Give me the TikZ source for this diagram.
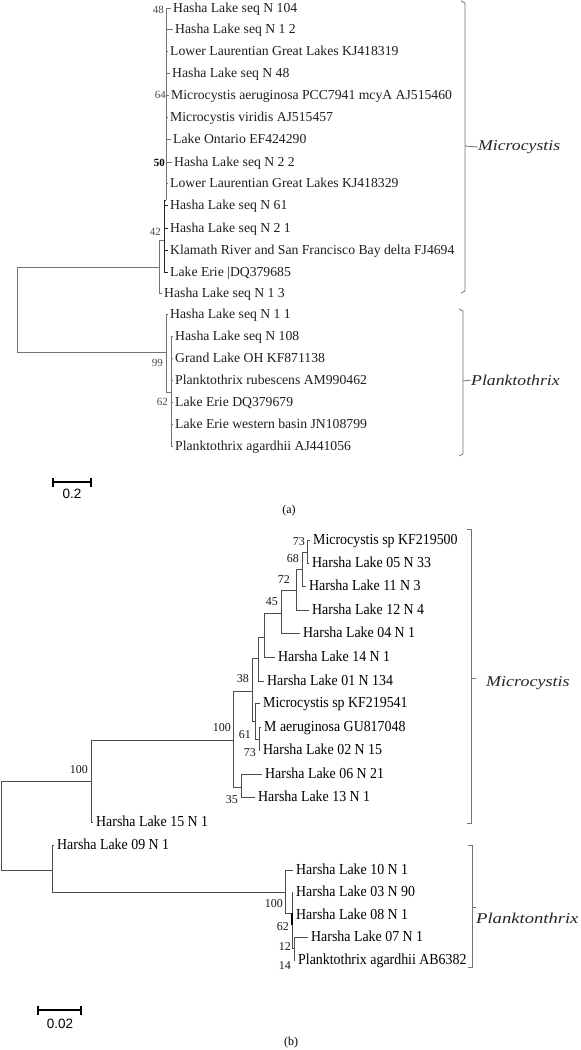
\documentclass[tikz,border=0pt]{standalone}
\usepackage{fontspec}
\usepackage{graphicx}
\setmainfont{Liberation Serif}
\newfontfamily\arialf{Liberation Sans}
\tikzset{
  leafa/.style={anchor=west, inner xsep=2pt, inner ysep=0pt, text height=9.5pt, text depth=1.5pt, font=\fontsize{13.7}{15}\selectfont, text=black!88},
  leafb/.style={anchor=west, inner xsep=3pt, inner ysep=0pt, text height=10pt, text depth=1.5pt, font=\fontsize{13.9}{15}\selectfont, text=black, yscale=1.1},
  boota/.style={anchor=east, inner sep=0pt, font=\fontsize{11}{12}\selectfont, text=black!70},
  bootb/.style={anchor=east, inner sep=0pt, font=\fontsize{12}{13}\selectfont, text=black!90},
  treea/.style={draw=black!55, line width=0.8pt},
  treeadk/.style={draw=black!85, line width=1pt},
  treeb/.style={draw=black!70, line width=0.9pt},
  brk/.style={draw=black!55, line width=0.8pt},
  clade/.style={anchor=west, inner sep=0pt, font=\fontsize{15}{17}\selectfont\itshape, text=black!85},
  sbar/.style={draw=black, line width=2.8pt},
  stick/.style={draw=black, line width=1.8pt},
  slab/.style={inner sep=0pt, font=\arialf\fontsize{13.5}{15}\selectfont},
  capt/.style={inner sep=0pt, font=\fontsize{12}{13}\selectfont},
}
\begin{document}
\begin{tikzpicture}[x=1pt,y=-1pt]
\useasboundingbox[fill=white] (0,0) rectangle (581,1050);

% ---------------- panel (a) ----------------
\node[leafa] (a1)  at (171,8)   {Hasha Lake seq N 104};
\node[leafa] (a2)  at (173,29)  {Hasha Lake seq N 1 2};
\node[leafa] (a3)  at (168,51)  {Lower Laurentian Great Lakes KJ418319};
\node[leafa] (a4)  at (170,73)  {Hasha Lake seq N 48};
\node[leafa] (a5)  at (169,95)  {Microcystis aeruginosa PCC7941 mcyA AJ515460};
\node[leafa] (a6)  at (168,117) {Microcystis viridis AJ515457};
\node[leafa] (a7)  at (171,139) {Lake Ontario EF424290};
\node[leafa] (a8)  at (172,162) {Hasha Lake seq N 2 2};
\node[leafa] (a9)  at (168,183) {Lower Laurentian Great Lakes KJ418329};
\node[leafa] (a10) at (168,205) {Hasha Lake seq N 61};
\node[leafa] (a11) at (168,228) {Hasha Lake seq N 2 1};
\node[leafa] (a12) at (168,250) {Klamath River and San Francisco Bay delta FJ4694};
\node[leafa] (a13) at (168,272) {Lake Erie |DQ379685};
\node[leafa] (a14) at (162,293) {Hasha Lake seq N 1 3};
\node[leafa] (b1)  at (168,314) {Hasha Lake seq N 1 1};
\node[leafa] (b2)  at (173,336) {Hasha Lake seq N 108};
\node[leafa] (b3)  at (173,358) {Grand Lake OH KF871138};
\node[leafa] (b4)  at (173,380) {Planktothrix rubescens AM990462};
\node[leafa] (b5)  at (173,402) {Lake Erie DQ379679};
\node[leafa] (b6)  at (173,424) {Lake Erie western basin JN108799};
\node[leafa] (b7)  at (173,446) {Planktothrix agardhii AJ441056};

\coordinate (cRa) at (17,310);
\coordinate (cM0) at (159,267);
\coordinate (c42) at (164,240);
\coordinate (cGa) at (166,200);
\coordinate (cP0) at (166,352);
\coordinate (c62) at (171,392);

\draw[treea] (cGa) |- (a1.west) (cGa) |- (a2.west) (cGa) |- (a3.west)
  (cGa) |- (a4.west) (cGa) |- (a5.west) (cGa) |- (a6.west) (cGa) |- (a7.west)
  (cGa) |- (a8.west) (cGa) |- (a9.west);
\draw[treeadk] (c42) |- (cGa) (c42) |- (a10.west) (c42) |- (a11.west)
  (c42) |- (a12.west) (c42) |- (a13.west);
\draw[treea] (cM0) |- (c42) (cM0) |- (a14.west);
\draw[treea] (cRa) |- (cM0) (cRa) |- (cP0);
\draw[treea] (cP0) |- (b1.west) (cP0) |- (c62);
\draw[treea] (c62) |- (b2.west) (c62) |- (b3.west) (c62) |- (b4.west)
  (c62) |- (b5.west) (c62) |- (b6.west) (c62) |- (b7.west);

\node[boota] (l48) at (164,10) {48};
\node[boota] (l64) at (166,95) {64};
\node[boota, font=\fontsize{11}{12}\selectfont\bfseries, text=black] (l50) at (165,163) {50};
\node[boota] (l42) at (161,232) {42};
\node[boota] (l99) at (163,363) {99};
\node[boota] (l62a) at (168,402) {62};

% brackets (a)
\coordinate (bMat) at (465,3);
\coordinate (bMab) at (465,291);
\coordinate (bMam) at (465,146);
\node[clade] (LMa) at (478,147) {\scalebox{1.18}[1]{Microcystis}};
\draw[brk] (461,1) -- (bMat) -- (bMab) -- (461,293);
\draw[brk] (bMam) -- (LMa.west);
\coordinate (bPat) at (463,311);
\coordinate (bPab) at (463,454);
\coordinate (bPam) at (463,381);
\node[clade] (LPa) at (471,380) {\scalebox{1.18}[1]{Planktothrix}};
\draw[brk] (459,309) -- (bPat) -- (bPab) -- (459,456);
\draw[brk] (bPam) -- (LPa.west);

% scale (a)
\coordinate (sa1) at (53,482);
\coordinate (sa2) at (91,482);
\draw[sbar] (sa1) -- (sa2);
\draw[stick] ([yshift=4.5pt]sa1) -- ([yshift=-4.5pt]sa1);
\draw[stick] ([yshift=4.5pt]sa2) -- ([yshift=-4.5pt]sa2);
\node[slab] (sla) at (72,494) {0.2};
\node[capt] (capa) at (289,511) {(a)};

% ---------------- panel (b) ----------------
\node[leafb] (m1)  at (310,540) {Microcystis sp KF219500};
\node[leafb] (m2)  at (309,563) {Harsha Lake 05 N 33};
\node[leafb] (m3)  at (306,586) {Harsha Lake 11 N 3};
\node[leafb] (m4)  at (309,610) {Harsha Lake 12 N 4};
\node[leafb] (m5)  at (300,633) {Harsha Lake 04 N 1};
\node[leafb] (m6)  at (275,657) {Harsha Lake 14 N 1};
\node[leafb] (m7)  at (264,681) {Harsha Lake 01 N 134};
\node[leafb] (m8)  at (260,703) {Microcystis sp KF219541};
\node[leafb] (m9)  at (261,727) {M aeruginosa GU817048};
\node[leafb] (m10) at (260,750) {Harsha Lake 02 N 15};
\node[leafb] (m11) at (262,774) {Harsha Lake 06 N 21};
\node[leafb] (m12) at (255,797) {Harsha Lake 13 N 1};
\node[leafb] (m13) at (93,822)  {Harsha Lake 15 N 1};
\node[leafb] (p1)  at (54,845)  {Harsha Lake 09 N 1};
\node[leafb] (p2)  at (293,870) {Harsha Lake 10 N 1};
\node[leafb] (p3)  at (293,892) {Harsha Lake 03 N 90};
\node[leafb] (p4)  at (293,915) {Harsha Lake 08 N 1};
\node[leafb] (p5)  at (308,937) {Harsha Lake 07 N 1};
\node[leafb] (p6)  at (295,960) {Planktothrix agardhii AB6382};

\coordinate (cRb) at (1,824);
\coordinate (cA) at (91,781);
\coordinate (cB) at (233,740);
\coordinate (cC) at (252,691);
\coordinate (cD) at (258,658);
\coordinate (cE) at (264,637);
\coordinate (cF) at (281,613);
\coordinate (cG) at (296,590);
\coordinate (cH) at (302,569);
\coordinate (cI) at (307,552);
\coordinate (cJ) at (255,721);
\coordinate (cK) at (259,739);
\coordinate (cL) at (241,787);
\coordinate (cP) at (52,870);
\coordinate (cQ) at (285,892);
\coordinate (cR) at (292,913);
\coordinate (cS) at (294,948);

\draw[treeb] (cRb) |- (cA) (cRb) |- (cP);
\draw[treeb] (cA) |- (cB) (cA) |- (m13.west);
\draw[treeb] (cB) |- (cC) (cB) |- (cL);
\draw[treeb] (cC) |- (cD) (cC) |- (cJ);
\draw[treeb] (cD) |- (cE) (cD) |- (m7.west);
\draw[treeb] (cE) |- (cF) (cE) |- (m6.west);
\draw[treeb] (cF) |- (cG) (cF) |- (m5.west);
\draw[treeb] (cG) |- (cH) (cG) |- (m4.west);
\draw[treeb] (cH) |- (cI) (cH) |- (m3.west);
\draw[treeb] (cI) |- (m1.west) (cI) |- (m2.west);
\draw[treeb] (cJ) |- (m8.west) (cJ) |- (cK);
\draw[treeb] (cK) |- (m9.west) (cK) |- (m10.west);
\draw[treeb] (cL) |- (m11.west) (cL) |- (m12.west);
\draw[treeb] (cP) |- (p1.west) (cP) |- (cQ);
\draw[treeb] (cQ) |- (p2.west) (cQ) |- (cR);
\draw[treeb] (cR) |- (p3.west) (cR) |- (p4.west) (cR) |- (cS);
\draw[treeb] (cS) |- (p5.west) (cS) |- (p6.west);
\draw[draw=black, line width=1.8pt] (cR) -- ([yshift=-12pt]cR);

\node[bootb] (n73a) at (305,542) {73};
\node[bootb] (n68)  at (299,559) {68};
\node[bootb] (n72)  at (290,580) {72};
\node[bootb] (n45)  at (278,602) {45};
\node[bootb] (n38)  at (249,679) {38};
\node[bootb] (n100a) at (231,728) {100};
\node[bootb] (n61)  at (251,735) {61};
\node[bootb] (n73b) at (256,753) {73};
\node[bootb] (n35)  at (238,800) {35};
\node[bootb] (n100r) at (88,770) {100};
\node[bootb] (n100q) at (283,904) {100};
\node[bootb] (n62)  at (289,927) {62};
\node[bootb] (n12)  at (291,947) {12};
\node[bootb] (n14)  at (291,966) {14};

% brackets (b)
\coordinate (bMbt) at (471,529);
\coordinate (bMbb) at (471,823);
\coordinate (bMbm) at (471,678);
\coordinate (bMbk) at (476,678);
\node[clade] (LMb) at (486,683) {\scalebox{1.2}[1]{Microcystis}};
\draw[brk] (467,529) -- (bMbt) -- (bMbb) -- (467,823);
\draw[brk] (bMbm) -- (bMbk);
\coordinate (bPbt) at (472,845);
\coordinate (bPbb) at (472,967);
\coordinate (bPbm) at (472,907);
\coordinate (bPbk) at (476,907);
\node[clade] (LPb) at (476,918) {\scalebox{1.24}[1]{Planktonthrix}};
\draw[brk] (468,845) -- (bPbt) -- (bPbb) -- (468,967);
\draw[brk] (bPbm) -- (bPbk);

% scale (b)
\coordinate (sb1) at (38,1010);
\coordinate (sb2) at (81,1010);
\draw[sbar] (sb1) -- (sb2);
\draw[stick] ([yshift=4.5pt]sb1) -- ([yshift=-4.5pt]sb1);
\draw[stick] ([yshift=4.5pt]sb2) -- ([yshift=-4.5pt]sb2);
\node[slab] (slb) at (60,1024) {0.02};
\node[capt] (capb) at (291,1043) {(b)};
\end{tikzpicture}
\end{document}
